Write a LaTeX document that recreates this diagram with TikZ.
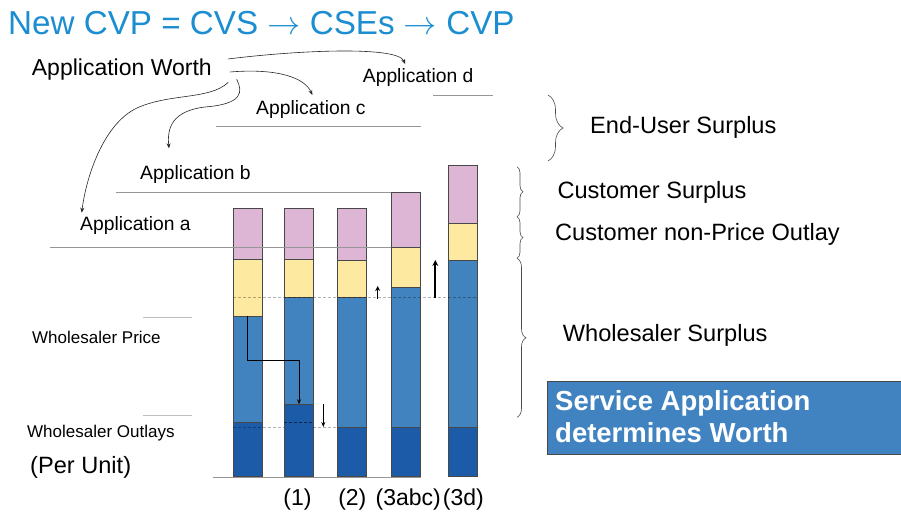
\RequirePackage{fix-cm}
\documentclass[tikz,border=0pt]{standalone}
\usepackage{fontspec}
\setmainfont{Liberation Sans}
\usetikzlibrary{arrows.meta,decorations.pathreplacing}

\definecolor{titleblue}{RGB}{27,141,208}
\definecolor{cpink}{RGB}{221,182,214}
\definecolor{cyellow}{RGB}{253,234,160}
\definecolor{cmid}{RGB}{64,131,190}
\definecolor{cdark}{RGB}{28,91,167}
\definecolor{boxblue}{RGB}{64,131,192}
\definecolor{outline}{RGB}{72,72,72}
\definecolor{guidegray}{RGB}{150,150,150}
\definecolor{lightguide}{RGB}{190,190,190}

\begin{document}
\begin{tikzpicture}[x=1pt,y=-1pt,
  txt/.style={inner sep=0pt, anchor=west},
  big/.style={txt, font=\fontsize{23.6}{28}\selectfont},
  app/.style={txt, font=\fontsize{19.3}{23}\selectfont},
  small/.style={txt, font=\fontsize{17}{20}\selectfont},
  seg/.style={draw=outline, line width=0.9pt},
  guide/.style={draw=guidegray, line width=0.9pt},
  lguide/.style={draw=lightguide, line width=0.9pt},
  brc/.style={decorate, decoration={brace, amplitude=#1}, draw=black!70, line width=0.6pt},
  curarrow/.style={draw=black!85, line width=0.6pt, -{Stealth[length=5pt,width=4pt]}},
  thinarrow/.style={draw=black, line width=0.8pt, -{Stealth[length=5pt,width=4pt]}},
  dashline/.style={draw=black, opacity=0.3, line width=0.9pt, dash pattern=on 3pt off 2pt}
]
\useasboundingbox (0,0) rectangle (901,518);

% title
\node[inner sep=0pt, anchor=base west, text=titleblue, font=\fontsize{33.2}{40}\selectfont] (title) at (8,35) {New CVP = CVS $\rightarrow$ CSEs $\rightarrow$ CVP};

% stacked bars: left x / top / pink-yellow / yellow-blue / blue-dark
\foreach \xa/\t/\p/\y/\d in {233/208.3/259.3/316/422.7, 284/208.3/259.3/297.7/404.3, 337/208.3/260.3/297.7/427.7, 391/192.3/247/287/427.7, 448/165/223.3/260/427.7}{
  \draw[seg, fill=cpink]   (\xa,\t) rectangle (\xa+29,\p);
  \draw[seg, fill=cyellow] (\xa,\p) rectangle (\xa+29,\y);
  \draw[seg, fill=cmid]    (\xa,\y) rectangle (\xa+29,\d);
  \draw[seg, fill=cdark]   (\xa,\d) rectangle (\xa+29,476.7);
}

% level guides
\draw[guide] (433,95) -- (493,95);
\draw[guide] (216,126) -- (421,126);
\draw[guide] (115.7,192.3) -- (391,192.3);
\draw[guide] (50,247) -- (391,247);
\draw[lguide] (143,317.3) -- (192,317.3);
\draw[lguide] (143,415.7) -- (192,415.7);
\draw[guide] (213,477) -- (421,477);

% dashed reference levels
\draw[dashline] (233,297.7) -- (477,297.7);
\draw[dashline] (233,427.7) -- (284,427.7);
\draw[dashline] (313,427.7) -- (337,427.7);
\draw[dashline, opacity=0.55] (284,422.7) -- (313,422.7);

% shifts between bars
\coordinate (e1) at (247.7,316);
\coordinate (e2) at (299,404.3);
\draw[thinarrow] (e1) -- (247.7,360) -| (e2);
\coordinate (d1) at (323.3,404);
\coordinate (d2) at (323.3,427);
\draw[thinarrow] (d1) -- (d2);
\coordinate (u1) at (377.7,299.3);
\coordinate (u2) at (377.7,286);
\draw[draw=black, line width=1.4pt, -{Stealth[length=5pt,width=5pt]}] (u1) -- (u2);
\coordinate (v1) at (435.3,297.7);
\coordinate (v2) at (435.3,260);
\draw[draw=black, line width=1.8pt, -{Stealth[length=6pt,width=6pt]}] (v1) -- (v2);

% left-hand labels
\node[big, font=\fontsize{23}{28}\selectfont] (worth) at (31.7,69.3) {Application Worth};
\node[app] (appd) at (362.7,77.7) {Application d};
\node[app] (appc) at (256,109.3) {Application c};
\node[app] (appb) at (140,175) {Application b};
\node[app] (appa) at (80,226) {Application a};
\node[small] (wprice) at (32,337) {Wholesaler Price};
\node[small] (wout) at (27,433.2) {Wholesaler Outlays};
\node[big] (perunit) at (30,467.2) {(Per Unit)};

% curved arrows from the worth label
\coordinate (sd) at (228,59);
\coordinate (td) at (405,64);
\coordinate (sc) at (230,72);
\coordinate (tc) at (312.3,95);
\coordinate (sb) at (236.7,79.3);
\coordinate (tb) at (169,148.3);
\coordinate (sa) at (228.3,82.3);
\coordinate (ta) at (81.7,212.7);
\draw[curarrow] (sd) .. controls (300,50) and (398,46) .. (td);
\draw[curarrow] (sc) .. controls (278,68) and (305,78) .. (tc);
\draw[curarrow] (sb) .. controls (243,92) and (243,104) .. (205,107) .. controls (172,111) and (167,128) .. (tb);
\draw[curarrow] (sa) .. controls (210,100) and (170,93) .. (137,108) .. controls (103,124) and (86,178) .. (ta);

% braces and right-hand labels
\draw[brc=15pt] (548,95) -- (548,161);
\draw[brc=6pt] (517,166.7) -- (517,216.7);
\draw[brc=6pt] (517,216.7) -- (517,258.3);
\draw[brc=9pt] (517,258.3) -- (517,417.3);
\node[big] (eus) at (590,127.2) {End-User Surplus};
\node[big] (cs) at (557.3,192.2) {Customer Surplus};
\node[big] (cnpo) at (555,234.8) {Customer non-Price Outlay};
\node[big] (ws) at (562.7,335.5) {Wholesaler Surplus};

% highlighted statement
\draw[fill=boxblue, draw=outline, line width=0.8pt] (547.3,381) rectangle (901,454);
\node[txt, align=left, text=white, font=\bfseries\fontsize{27.5}{32.5}\selectfont] (note) at (555,416.5) {Service Application\\determines Worth};

% bar captions
\node[inner sep=0pt, font=\fontsize{23}{28}\selectfont] (c1) at (297.5,500) {(1)};
\node[inner sep=0pt, font=\fontsize{23}{28}\selectfont] (c2) at (352.3,500) {(2)};
\node[inner sep=0pt, font=\fontsize{23}{28}\selectfont] (c3) at (408.3,500) {(3abc)};
\node[inner sep=0pt, font=\fontsize{23}{28}\selectfont] (c4) at (463.3,500) {(3d)};
\end{tikzpicture}
\end{document}
